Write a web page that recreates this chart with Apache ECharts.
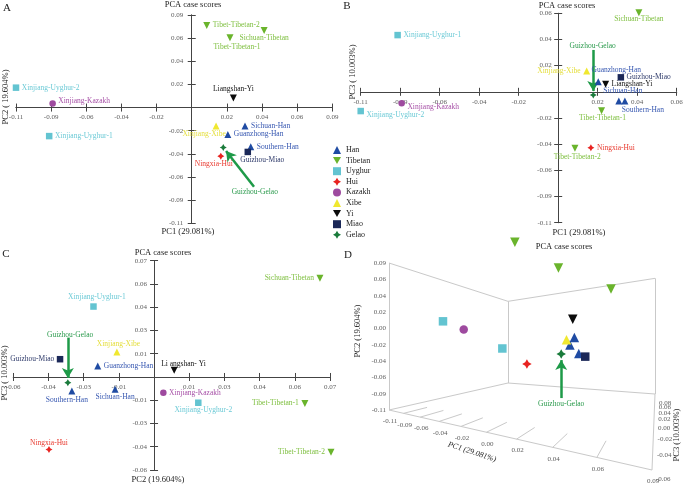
<!DOCTYPE html>
<html><head><meta charset="utf-8">
<script src="https://cdn.jsdelivr.net/npm/echarts@6/dist/echarts.min.js"></script>
<style>html,body{margin:0;padding:0;background:#fff}#c{width:685px;height:487px}</style>
</head><body><div id="c"></div>
<script>
// ---------------- DATA ----------------
const populations = ['Sichuan-Han','Guanzhong-Han','Southern-Han','Tibet-Tibetan-1','Tibet-Tibetan-2','Sichuan-Tibetan','Xinjiang-Uyghur-1','Xinjiang-Uyghur-2','Ningxia-Hui','Xinjiang-Kazakh','Xinjiang-Xibe','Liangshan-Yi','Guizhou-Miao','Guizhou-Gelao'];
const groupOf = ['Han','Han','Han','Tibetan','Tibetan','Tibetan','Uyghur','Uyghur','Hui','Kazakh','Xibe','Yi','Miao','Gelao'];
const groups = ['Han','Tibetan','Uyghur','Hui','Kazakh','Xibe','Yi','Miao','Gelao'];
const aPC1 = [0.0326,0.0221,0.0361,0.0234,0.0092,0.0443,-0.0872,-0.1075,0.0178,-0.0851,0.0149,0.0255,0.0343,0.0193];
const aPC2 = [-0.0171,-0.0250,-0.0365,0.0649,0.0763,0.0716,-0.0265,0.0185,-0.0451,0.0037,-0.0171,0.0089,-0.0412,-0.0371];
const bPC1 = [0.0330,0.0218,0.0363,0.0236,0.0091,0.0439,-0.0874,-0.1075,0.0178,-0.0852,0.0155,0.0258,0.0341,0.0191];
const bPC3 = [-0.0076,0.0083,-0.0076,-0.0155,-0.0464,0.0650,0.0466,-0.0158,-0.0459,-0.0094,0.0171,0.0062,0.0119,-0.0026];
const cPC2 = [-0.0155,-0.0224,-0.0327,0.0600,0.0704,0.0660,-0.0241,0.0176,-0.0418,0.0037,-0.0148,0.0080,-0.0374,-0.0343];
const cPC3 = [-0.0074,0.0066,-0.0084,-0.0159,-0.0453,0.0595,0.0424,-0.0155,-0.0437,-0.0095,0.0151,0.0040,0.0107,-0.0034];
const ticksA = ['-0.11','-0.09','-0.06','-0.04','-0.02','','0.02','0.04','0.06','0.09'];
const ticksB = ['-0.11','-0.09','-0.06','-0.04','-0.02','','0.02','0.04','0.06'];
const ticksC = ['-0.06','-0.04','-0.03','-0.01','','0.01','0.03','0.04','0.06','0.07'];
const ticksD12 = ['-0.11','-0.09','-0.06','-0.04','-0.02','0.00','0.02','0.04','0.06','0.09'];
const ticksD3 = ['-0.06','-0.04','-0.02','0.00','0.02','0.04','0.06','0.08'];

// ---------------- STYLE / LAYOUT ----------------
const SERIF = "'Liberation Serif','Times New Roman',serif";
const DOWN = 'path://M0,0L10,0L5,8.7Z';
const STAR = 'path://M5,0L6.8,3.2L10,5L6.8,6.8L5,10L3.2,6.8L0,5L3.2,3.2Z';
const gStyle = {
  Han:{symbol:'triangle', color:'#1f4ba3', text:'#3556b0'},
  Tibetan:{symbol:DOWN, color:'#6ab42c', text:'#80c043'},
  Uyghur:{symbol:'rect', color:'#63c4d1', text:'#6ccad6'},
  Hui:{symbol:STAR, color:'#e82320', text:'#e8392e'},
  Kazakh:{symbol:'circle', color:'#9e4a9f', text:'#a64fa6'},
  Xibe:{symbol:'triangle', color:'#f0e830', text:'#e4de3a'},
  Yi:{symbol:DOWN, color:'#0b0b0b', text:'#111111'},
  Miao:{symbol:'rect', color:'#1b2858', text:'#2e3a6a'},
  Gelao:{symbol:STAR, color:'#1a7b3b', text:'#2a9a4c'}
};
const ARROW_COLOR = '#1e9a48';
const axSpec = {
  Ax:{min:-0.1075, step:0.0215, labels:ticksA}, Ay:{min:-0.1075, step:0.0215, labels:ticksA},
  Bx:{min:-0.1075, step:0.0215, labels:ticksB}, By:{min:-0.1075, step:0.0215, labels:ticksB},
  Cx:{min:-0.056, step:0.014, labels:ticksC}, Cy:{min:-0.056, step:0.014, labels:ticksC},
  D1:{min:-0.1075, step:0.0215, labels:ticksD12}, D2:{min:-0.1075, step:0.0215, labels:ticksD12},
  D3:{min:-0.06, step:0.02, labels:ticksD3}
};
const grids = [
  {left:16, top:15, width:316.3, height:208.3},
  {left:360.7, top:13.3, width:316, height:209.4},
  {left:13.3, top:260.7, width:316.7, height:209.3},
  {left:0, top:0, width:685, height:487}
];
// tick label gaps from the axis line [x-axis labels down, y-axis labels left]
const tickGap = [[10,8.5],[10,6.5],[10.5,7]];
const labA = {
  'Sichuan-Han':['right'], 'Guanzhong-Han':['right'], 'Southern-Han':['right'],
  'Tibet-Tibetan-1':['inside',[7,9]], 'Tibet-Tibetan-2':['right'], 'Sichuan-Tibetan':['inside',[0,8]],
  'Xinjiang-Uyghur-1':['right'], 'Xinjiang-Uyghur-2':['right'], 'Ningxia-Hui':['inside',[-7,7.5]],
  'Xinjiang-Kazakh':['right',[0,-3]], 'Xinjiang-Xibe':['inside',[-12,8.5]], 'Liangshan-Yi':['inside',[0,-8.5]],
  'Guizhou-Miao':['inside',[14.5,8.5]], 'Guizhou-Gelao':['inside',[31.5,45]]
};
const labB = {
  'Sichuan-Han':['inside',[4,-10]], 'Guanzhong-Han':['inside',[18,-11.5]], 'Southern-Han':['inside',[18,8.5]],
  'Tibet-Tibetan-1':['inside',[1,7.6]], 'Tibet-Tibetan-2':['inside',[2.3,8.4]], 'Sichuan-Tibetan':['inside',[0,6]],
  'Xinjiang-Uyghur-1':['right'], 'Xinjiang-Uyghur-2':['right',[0,4]], 'Ningxia-Hui':['right'],
  'Xinjiang-Kazakh':['right',[0,4]], 'Xinjiang-Xibe':['left'], 'Liangshan-Yi':['right'],
  'Guizhou-Miao':['right'], 'Guizhou-Gelao':['inside',[-0.6,-49]]
};
const labC = {
  'Sichuan-Tibetan':['left'], 'Xinjiang-Uyghur-1':['inside',[3.5,-10]], 'Guizhou-Gelao':['inside',[2.3,-47.7]],
  'Guizhou-Miao':['left'], 'Xinjiang-Xibe':['inside',[1.6,-8]], 'Guanzhong-Han':['right'],
  'Southern-Han':['inside',[-5,9]], 'Sichuan-Han':['inside',[0,7.5]], 'Liangshan-Yi':['inside',[9.3,-6.6]],
  'Xinjiang-Kazakh':['right'], 'Xinjiang-Uyghur-2':['inside',[5,7.6]], 'Tibet-Tibetan-1':['left'],
  'Tibet-Tibetan-2':['left'], 'Ningxia-Hui':['inside',[0,-7]]
};
const labD = {'Guizhou-Gelao':['inside',[0,50]]};
const nameC = {'Liangshan-Yi':'Li angshan- Yi'};
const arrowA = {tail:[0.0188,-0.0365], tip:[0.0017,-0.0032]};
const arrowB = {tail:[0,0.037], tip:[0,0.0033]};
const arrowC = {tail:[0,0.0271], tip:[0,0.0028]};
const arrowDpx = {tail:[0,44], tip:[0,6]};
const dBox = {L:[389,410], F:[652,470], R:[655,394], B:[508,383], H:147};

// ---------------- HELPERS ----------------
function mkAxis(dim, grid, spec, onZeroIdx, mirror) {
  const max = +(spec.min + (spec.labels.length-1)*spec.step).toFixed(6);
  return {type:'value', gridIndex:grid, min:spec.min, max:max, interval:spec.step,
    position: dim==='x' ? (mirror?'top':'bottom') : (mirror?'right':'left'),
    splitLine:{show:false}, axisLabel:{show:false},
    axisLine:{onZero:true, onZeroAxisIndex:onZeroIdx, lineStyle:{color:'#444', width:1}},
    axisTick:{show:true, length:4, lineStyle:{color:'#444'}}};
}
function tickLabelSeries(axIdx, specX, specY, gap) {
  const data = [];
  specX.labels.forEach((t,i) => { if (t) data.push({value:[specX.min+i*specX.step, 0],
    label:{formatter:t, align:'center', verticalAlign:'middle', offset:[0, gap[0]]}}); });
  specY.labels.forEach((t,i) => { if (t) data.push({value:[0, specY.min+i*specY.step],
    label:{formatter:t, align:'right', verticalAlign:'middle', offset:[-gap[1], 0]}}); });
  return {type:'scatter', xAxisIndex:axIdx, yAxisIndex:axIdx, symbolSize:1, silent:true, clip:false,
    itemStyle:{color:'rgba(0,0,0,0)'}, z:3, emphasis:{disabled:true},
    label:{show:true, position:'inside', fontSize:7, fontFamily:SERIF, color:'#333'}, data:data};
}
function lbl(place, name, color, names) {
  const p = place || ['right'];
  const o = {show:true, formatter:(names && names[name]) || name, position:p[0], distance:2.5,
    color:color, fontSize:7.5, fontFamily:SERIF};
  if (p[1]) o.offset = p[1];
  if (p[0]==='inside') { o.align='center'; o.verticalAlign='middle'; }
  return o;
}
function arrowLine(from, to) {
  return {silent:true, symbol:['none','arrow'], symbolSize:[9,10], animation:false,
    lineStyle:{color:ARROW_COLOR, width:2.5, type:'solid'}, label:{show:false}, emphasis:{disabled:true},
    data:[[{coord:from},{coord:to}]]};
}
function panel(axIdx, xs, ys, labMap, size, arrow, names) {
  return groups.map(g => {
    const st = gStyle[g];
    const data = [];
    let gel = null;
    populations.forEach((p,i) => {
      if (groupOf[i] !== g) return;
      const item = {name:p, value:[xs[i], ys[i]]};
      item.label = labMap[p] ? lbl(labMap[p], p, st.text, names) : {show:false};
      if (p === 'Guizhou-Gelao') gel = [xs[i], ys[i]];
      data.push(item);
    });
    const s = {type:'scatter', name:g, xAxisIndex:axIdx, yAxisIndex:axIdx, data:data, clip:false,
      symbol:st.symbol, symbolSize:(st.symbol==='rect'||st.symbol==='circle')?size-0.5:size,
      itemStyle:{color:st.color, opacity:1}, z:5, emphasis:{disabled:true}};
    if (gel && arrow) s.markLine = arrowLine([gel[0]+arrow.tail[0], gel[1]+arrow.tail[1]], [gel[0]+arrow.tip[0], gel[1]+arrow.tip[1]]);
    return s;
  });
}
const H = (function(){
  const [x0,y0]=dBox.L,[x1,y1]=dBox.F,[x2,y2]=dBox.R,[x3,y3]=dBox.B;
  const dx1=x1-x2, dx2=x3-x2, dx3=x0-x1+x2-x3, dy1=y1-y2, dy2=y3-y2, dy3=y0-y1+y2-y3;
  const det=dx1*dy2-dx2*dy1;
  const g=(dx3*dy2-dx2*dy3)/det, h=(dx1*dy3-dx3*dy1)/det;
  return {a:x1-x0+g*x1, b:x3-x0+h*x3, c:x0, d:y1-y0+g*y1, e:y3-y0+h*y3, f:y0, g:g, h:h};
})();
function proj(u,v,w){
  const den=H.g*u+H.h*w+1;
  const x=(H.a*u+H.b*w+H.c)/den, yf=(H.d*u+H.e*w+H.f)/den;
  return [x, yf - v*dBox.H/den];
}
function nrm(val, spec){ return (val-spec.min)/(spec.step*(spec.labels.length-1)); }

// ---------------- BUILD ----------------
const specs = [[axSpec.Ax, axSpec.Ay],[axSpec.Bx, axSpec.By],[axSpec.Cx, axSpec.Cy]];
const xAxis = [], yAxis = [];
specs.forEach((s,k) => {
  xAxis.push(mkAxis('x',k,s[0],2*k,false), mkAxis('x',k,s[0],2*k+1,true));
  yAxis.push(mkAxis('y',k,s[1],2*k,false), mkAxis('y',k,s[1],2*k+1,true));
});
xAxis.push({type:'value', gridIndex:3, min:0, max:685, show:false, axisLine:{onZero:false}});
yAxis.push({type:'value', gridIndex:3, min:0, max:487, inverse:true, show:false, axisLine:{onZero:false}});
const DX = 6;

let series = [];
specs.forEach((s,k) => series.push(tickLabelSeries(2*k, s[0], s[1], tickGap[k])));
series = series.concat(panel(0,aPC1,aPC2,labA,7,arrowA));
series = series.concat(panel(2,bPC1,bPC3,labB,7,arrowB));
series = series.concat(panel(4,cPC2,cPC3,labC,7,arrowC,nameC));

// Panel D: 3D values projected through a perspective box
const dX = [], dY = [];
populations.forEach((p,i) => {
  const q = proj(nrm(aPC1[i],axSpec.D1), nrm(aPC2[i],axSpec.D2), nrm(bPC3[i],axSpec.D3));
  dX.push(q[0]); dY.push(q[1]);
});
const c = {L0:proj(0,0,0), L1:proj(0,1,0), B0:proj(0,0,1), B1:proj(0,1,1), R0:proj(1,0,1), R1:proj(1,1,1), F0:proj(1,0,0)};
const edges = [['L0','L1'],['L1','B1'],['B1','B0'],['B0','L0'],['B1','R1'],['R1','R0'],['R0','B0'],['L0','F0'],['F0','R0']];
const boxLines = edges.map(e => ({coords:[c[e[0]], c[e[1]]]}));
const n1 = ticksD12.length;
for (let i=1;i<n1-1;i++){ const u=i/(n1-1); boxLines.push({coords:[proj(u,0,0), proj(u,0,0.12)]}); }
series.push({type:'lines', coordinateSystem:'cartesian2d', xAxisIndex:DX, yAxisIndex:DX, polyline:false, silent:true,
  lineStyle:{color:'#c9c9c9', width:1, opacity:1}, data:boxLines, z:1, animation:false});
const dTicks = [];
ticksD12.forEach((t,i) => { const q = proj(0, i/(n1-1), 0);
  dTicks.push({value:[q[0]-3, q[1]], label:{formatter:t, align:'right', verticalAlign:'middle'}}); });
ticksD12.forEach((t,i) => { const q = proj(i/(n1-1), 0, 0);
  dTicks.push({value:[q[0]+1, q[1]+11.5], label:{formatter:t, align:'center', verticalAlign:'middle'}}); });
ticksD3.forEach((t,i) => { const q = proj(1, 0, i/(ticksD3.length-1));
  dTicks.push({value:[q[0]+4, q[1]+9], label:{formatter:t, align:'left', verticalAlign:'middle'}}); });
series.push({type:'scatter', xAxisIndex:DX, yAxisIndex:DX, symbolSize:1, silent:true, clip:false,
  itemStyle:{color:'rgba(0,0,0,0)'}, label:{show:true, position:'inside', fontSize:7, fontFamily:SERIF, color:'#333'}, data:dTicks, z:2});
groups.forEach(g => {
  const st = gStyle[g];
  const data = [];
  let gel = null;
  populations.forEach((p,i) => {
    if (groupOf[i] !== g) return;
    const item = {name:p, value:[dX[i], dY[i]]};
    item.label = labD[p] ? lbl(labD[p], p, st.text) : {show:false};
    if (p === 'Guizhou-Gelao') gel = [dX[i], dY[i]];
    data.push(item);
  });
  const s = {type:'scatter', name:g, xAxisIndex:DX, yAxisIndex:DX, data:data, clip:false,
    symbol:st.symbol, symbolSize:(st.symbol==='rect'||st.symbol==='circle')?8.5:9.5,
    itemStyle:{color:st.color, opacity:1}, z:5, emphasis:{disabled:true}};
  if (gel) s.markLine = arrowLine([gel[0]+arrowDpx.tail[0], gel[1]+arrowDpx.tail[1]], [gel[0]+arrowDpx.tip[0], gel[1]+arrowDpx.tip[1]]);
  series.push(s);
});

const texts = [
  {t:'A', x:7, y:8, size:11}, {t:'B', x:347, y:6, size:11}, {t:'C', x:6, y:254, size:11}, {t:'D', x:348, y:255, size:11},
  {t:'PCA case scores', x:193, y:5, size:8.5}, {t:'PCA case scores', x:567, y:6, size:8.5},
  {t:'PCA case scores', x:163, y:253, size:8.5}, {t:'PCA case scores', x:564, y:247, size:8.5},
  {t:'PC1 (29.081%)', x:188, y:232, size:8.5}, {t:'PC1 (29.081%)', x:579, y:233, size:8.5},
  {t:'PC2 (19.604%)', x:158, y:480, size:8.5},
  {t:'PC2 ( 19.604%)', x:6, y:97, size:8.5, rot:90}, {t:'PC3 ( 10.003%)', x:353, y:72, size:8.5, rot:90},
  {t:'PC3 ( 10.003%)', x:5, y:373, size:8.5, rot:90}, {t:'PC2 (19.604%)', x:358, y:331, size:8.5, rot:90},
  {t:'PC3 (10.003%)', x:677, y:435, size:8.5, rot:90},
  {t:'PC1 (29.081%)', x:472, y:452, size:8, rot:-18, italic:true}
];
const graphic = texts.map(o => ({type:'text', x:o.x, y:o.y, rotation:(o.rot||0)*Math.PI/180, silent:true, z:10,
  style:{text:o.t, x:0, y:0, align:'center', verticalAlign:'middle', fill:'#222',
    font:(o.italic?'italic ':'')+o.size+'px '+SERIF}}));

const option = {
  animation:false, backgroundColor:'#fff', textStyle:{fontFamily:SERIF},
  grid:grids.map(g => Object.assign({containLabel:false}, g)),
  xAxis:xAxis, yAxis:yAxis,
  legend:{data:groups, orient:'vertical', left:333, top:146, itemWidth:8, itemHeight:8, itemGap:2.6,
    selectedMode:false, textStyle:{fontSize:8, fontFamily:SERIF, color:'#222', lineHeight:8}, padding:0},
  series:series, graphic:graphic
};
const chart = echarts.init(document.getElementById('c'), null, {renderer:'canvas', width:685, height:487});
chart.setOption(option);
</script></body></html>
